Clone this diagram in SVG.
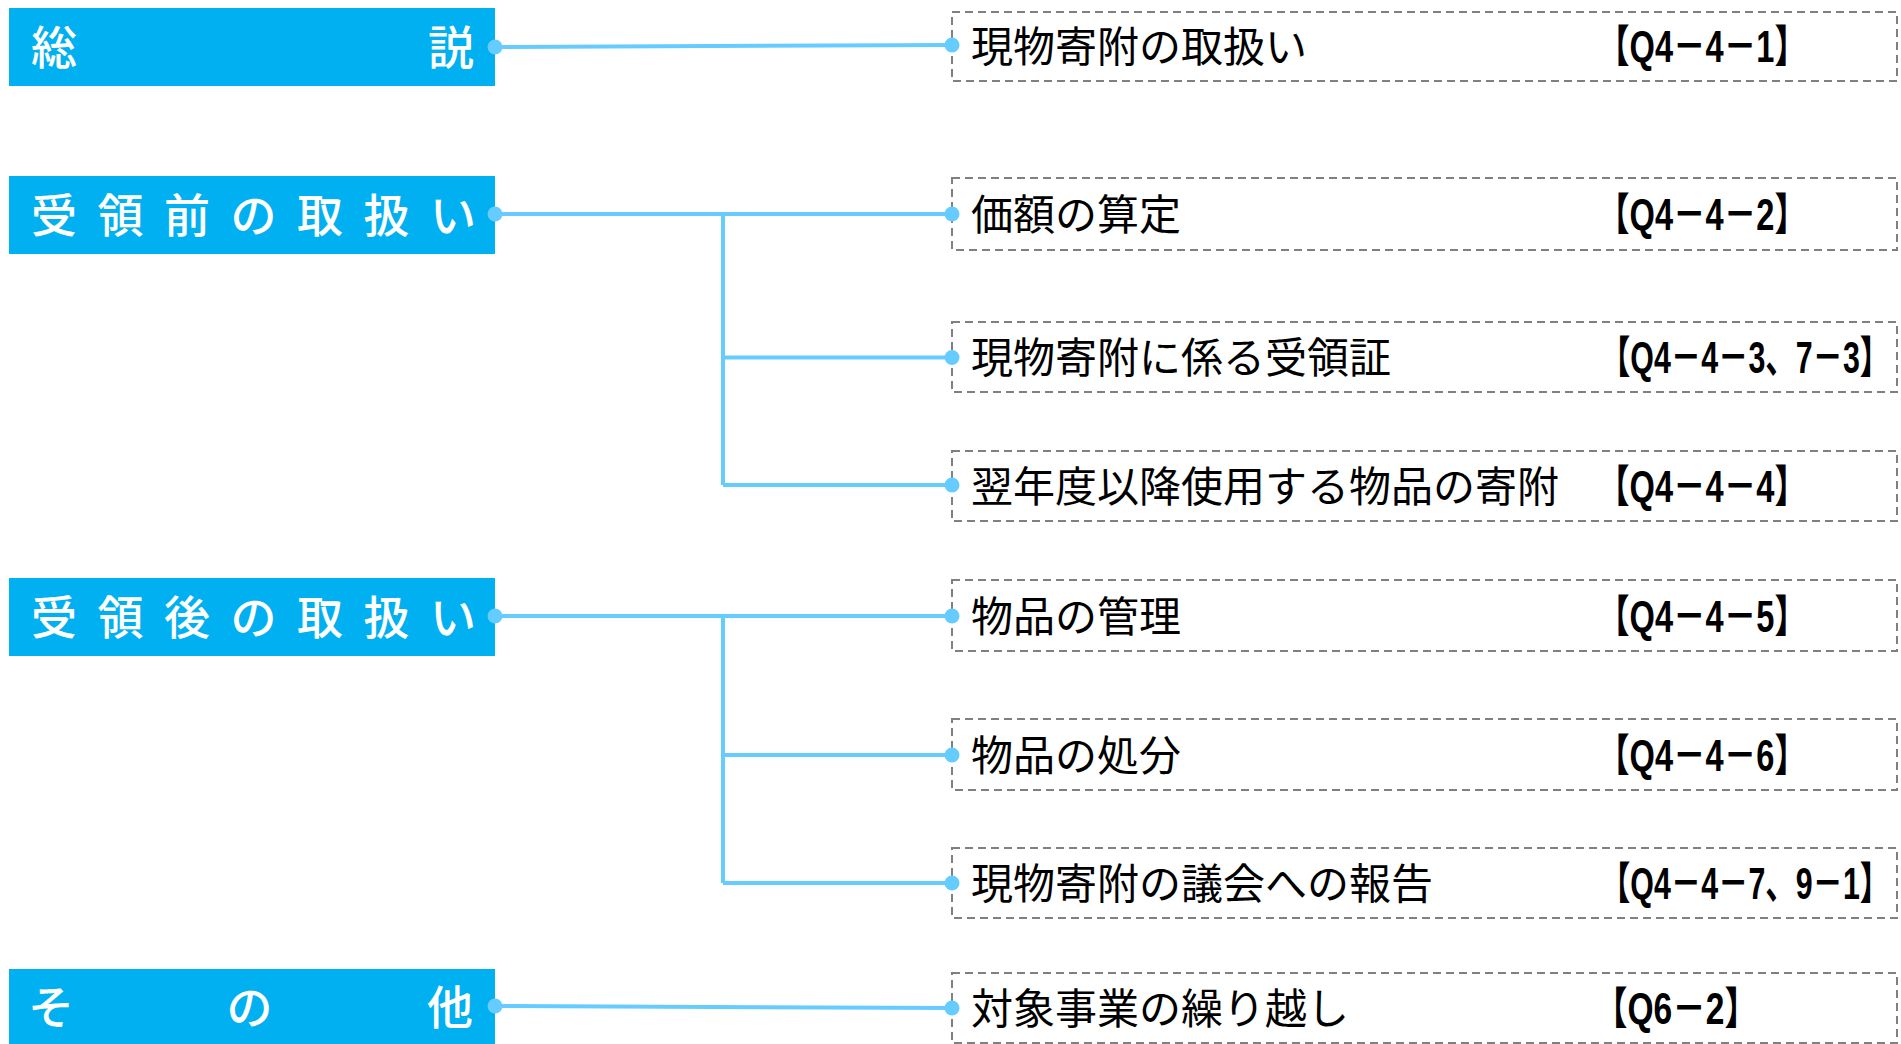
<svg xmlns="http://www.w3.org/2000/svg" width="1901" height="1044" viewBox="0 0 1901 1044">
<style>
.hb{fill:#00B0F0}
.ht{fill:#fff;font-family:"Noto Sans CJK JP",sans-serif;font-size:46px;font-weight:500;text-anchor:middle}
.db{fill:#fff;stroke:#808080;stroke-width:2;stroke-dasharray:8 5}
.it{fill:#000;font-family:"Noto Sans CJK JP",sans-serif;font-size:42px}
.rf{fill:#000;font-family:"Liberation Sans","Noto Sans CJK JP",sans-serif;font-size:44px;font-weight:bold}
.cl{fill:none;stroke:#66CCFF;stroke-width:4}
.dt{fill:#66CCFF}
</style>
<rect width="1901" height="1044" fill="#fff"/>
<g id="head-sousetsu"><rect class="hb" x="9" y="8" width="486" height="78"/><text class="ht" x="54 451" y="64">総説</text></g>
<g id="head-juryomae"><rect class="hb" x="9" y="176" width="486" height="78"/><text class="ht" x="54 120.5 187 253.5 320 386.5 453" y="232">受領前の取扱い</text></g>
<g id="head-juryogo"><rect class="hb" x="9" y="578" width="486" height="78"/><text class="ht" x="54 120.5 187 253.5 320 386.5 453" y="634">受領後の取扱い</text></g>
<g id="head-sonota"><rect class="hb" x="9" y="969" width="486" height="75"/><text class="ht" x="51 249.5 450" y="1024">その他</text></g>

<g id="item1"><rect class="db" x="952" y="12" width="945" height="69"/><text class="it" x="971" y="62">現物寄附の取扱い</text><text class="rf" x="1597" y="62" textLength="210" lengthAdjust="spacingAndGlyphs">【Q4－4－1】</text></g>
<g id="item2"><rect class="db" x="952" y="178" width="945" height="72"/><text class="it" x="971" y="230">価額の算定</text><text class="rf" x="1597" y="230" textLength="210" lengthAdjust="spacingAndGlyphs">【Q4－4－2】</text></g>
<g id="item3"><rect class="db" x="952" y="322" width="945" height="70"/><text class="it" x="971" y="373">現物寄附に係る受領証</text><text class="rf" transform="translate(1600 373) scale(0.69 1)">【Q4－4－3、7－3】</text></g>
<g id="item4"><rect class="db" x="952" y="451" width="945" height="70"/><text class="it" x="971" y="502">翌年度以降使用する物品の寄附</text><text class="rf" x="1597" y="502" textLength="210" lengthAdjust="spacingAndGlyphs">【Q4－4－4】</text></g>
<g id="item5"><rect class="db" x="952" y="580" width="945" height="71"/><text class="it" x="971" y="632">物品の管理</text><text class="rf" x="1597" y="632" textLength="210" lengthAdjust="spacingAndGlyphs">【Q4－4－5】</text></g>
<g id="item6"><rect class="db" x="952" y="719" width="945" height="71"/><text class="it" x="971" y="771">物品の処分</text><text class="rf" x="1597" y="771" textLength="210" lengthAdjust="spacingAndGlyphs">【Q4－4－6】</text></g>
<g id="item7"><rect class="db" x="952" y="848" width="945" height="70"/><text class="it" x="971" y="899">現物寄附の議会への報告</text><text class="rf" transform="translate(1600 899) scale(0.69 1)">【Q4－4－7、9－1】</text></g>
<g id="item8"><rect class="db" x="952" y="973" width="945" height="70"/><text class="it" x="971" y="1024">対象事業の繰り越し</text><text class="rf" x="1594" y="1024" textLength="164" lengthAdjust="spacingAndGlyphs">【Q6－2】</text></g>

<g id="connectors">
<path class="cl" d="M495 47 L952 45"/>
<path class="cl" d="M495 214 H952 M723 214 V485 M723 357.5 H952 M723 485 H952"/>
<path class="cl" d="M495 616 H952 M723 616 V883 M723 755 H952 M723 883 H952"/>
<path class="cl" d="M495 1006 L952 1008"/>
<circle class="dt" cx="495" cy="47" r="7.5"/><circle class="dt" cx="952" cy="45" r="7.5"/>
<circle class="dt" cx="495" cy="214" r="7.5"/><circle class="dt" cx="952" cy="214" r="7.5"/>
<circle class="dt" cx="952" cy="357.5" r="7.5"/><circle class="dt" cx="952" cy="485" r="7.5"/>
<circle class="dt" cx="495" cy="616" r="7.5"/><circle class="dt" cx="952" cy="616" r="7.5"/>
<circle class="dt" cx="952" cy="755" r="7.5"/><circle class="dt" cx="952" cy="883" r="7.5"/>
<circle class="dt" cx="495" cy="1006" r="7.5"/><circle class="dt" cx="952" cy="1008" r="7.5"/>
</g>
</svg>
